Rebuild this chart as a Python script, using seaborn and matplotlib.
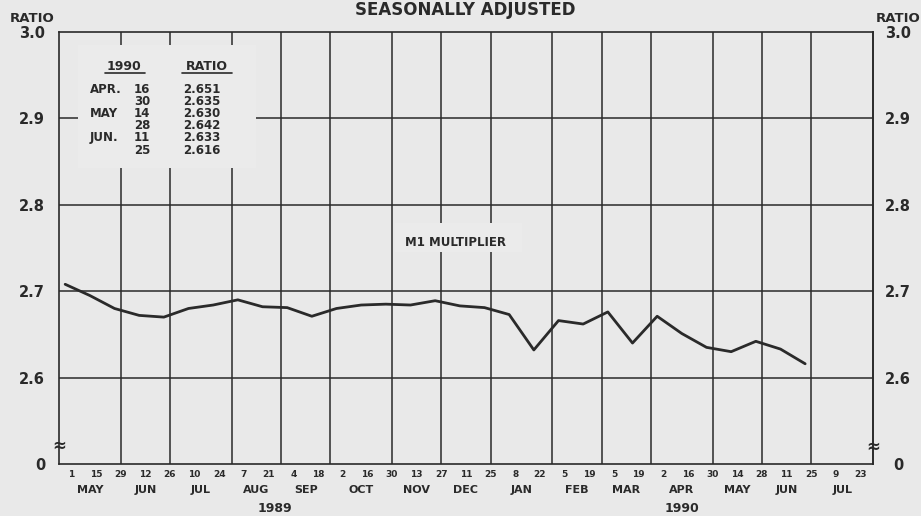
"""
M1 multiplier, seasonally adjusted - biweekly ratio, May 1989 to June 1990
"""

import pandas as pd
import matplotlib
matplotlib.use("Agg")
import matplotlib.pyplot as plt
import matplotlib.dates as mdates
import matplotlib.transforms as mtransforms
from matplotlib.patches import Rectangle
import seaborn as sns

# --- data -----------------------------------------------------------------
first_date = "1989-05-01"
last_tick_date = "1990-07-23"
ratio = [2.708, 2.695, 2.680, 2.672, 2.670, 2.680, 2.684, 2.690, 2.682, 2.681,
         2.671, 2.680, 2.684, 2.685, 2.684, 2.689, 2.683, 2.681, 2.673, 2.632,
         2.666, 2.662, 2.676, 2.640, 2.671, 2.651, 2.635, 2.630, 2.642, 2.633,
         2.616]
month_names = ["MAY", "JUN", "JUL", "AUG", "SEP", "OCT", "NOV", "DEC",
               "JAN", "FEB", "MAR", "APR", "MAY", "JUN", "JUL"]
year_names = ["1989", "1990"]
y_ticks = [2.5, 2.6, 2.7, 2.8, 2.9, 3.0]
y_tick_labels = ["0", "2.6", "2.7", "2.8", "2.9", "3.0"]
table_months = ["APR.", "", "MAY", "", "JUN.", ""]

BG = "#e9e9e9"
BOX = "#ebebeb"
INK = "#2a2a2a"

dates = pd.date_range(first_date, periods=len(ratio), freq="14D")
weeks = pd.date_range(first_date, last_tick_date, freq="7D")
# month boundaries on the chart are the last Monday of each month
month_ends = pd.period_range("1989-04", "1990-07", freq="M").to_timestamp(how="end").normalize()
bounds = month_ends - pd.to_timedelta(month_ends.weekday, unit="D")
# points sit half a week left of their Monday tick on the original
plot_shift = pd.Timedelta(days=3.5)

df = pd.DataFrame({"date": dates - plot_shift, "ratio": ratio})

# --- style ----------------------------------------------------------------
sns.set_style("white")
plt.rcParams["font.family"] = ["DejaVu Sans"]
plt.rcParams["font.weight"] = "bold"
plt.rcParams["text.color"] = INK

fig = plt.figure(figsize=(9.21, 5.16), dpi=100, facecolor=BG)
ax = fig.add_axes([59 / 921, 52 / 516, 814 / 921, 432 / 516])
ax.set_facecolor(BG)

sns.lineplot(data=df, x="date", y="ratio", ax=ax, color=INK, linewidth=2.0, zorder=2)

for b in bounds[1:-1]:
    ax.axvline(mdates.date2num(b), color=INK, lw=1.1, zorder=1)
for v in y_ticks[1:-1]:
    ax.axhline(v, color=INK, lw=1.1, zorder=1)

ax.set_xlim(mdates.date2num(bounds[0]), mdates.date2num(bounds[-1]))
ax.set_ylim(y_ticks[0], y_ticks[-1])
ax.set_xlabel("")
ax.set_ylabel("")
for s in ax.spines.values():
    s.set_color(INK)
    s.set_linewidth(1.2)

# weekly ticks, every other one labelled with the day
ax.set_xticks(mdates.date2num(weeks))
ax.set_xticklabels([str(d.day) if i % 2 == 0 else "" for i, d in enumerate(weeks)])
ax.tick_params(axis="x", direction="in", length=8, width=1.1, color=INK,
               pad=4, labelsize=6.5, labelcolor=INK)

ax.set_yticks(y_ticks)
ax.set_yticklabels(y_tick_labels)
ax.tick_params(axis="y", length=0, pad=10, labelsize=10.5, labelcolor=INK)

sec = ax.secondary_yaxis("right")
sec.set_yticks(y_ticks)
sec.set_yticklabels(y_tick_labels)
sec.tick_params(axis="y", length=0, pad=18, labelsize=10.5, labelcolor=INK)
for lab in sec.get_yticklabels():
    lab.set_horizontalalignment("center")
sec.spines["right"].set_color(INK)
sec.spines["right"].set_linewidth(1.2)

# month and year names under the day numbers
xa = mtransforms.blended_transform_factory(ax.transData, ax.transAxes)
for name, a, b in zip(month_names, bounds[:-1], bounds[1:]):
    mid = (mdates.date2num(a) + mdates.date2num(b)) / 2
    ax.text(mid, -0.060, name, transform=xa, ha="center", va="center", fontsize=8)
year_spans = [(bounds[0], bounds[8]), (bounds[8], bounds[-1])]
for name, (a, b) in zip(year_names, year_spans):
    mid = (mdates.date2num(a) + mdates.date2num(b)) / 2
    ax.text(mid, -0.102, name, transform=xa, ha="center", va="center", fontsize=9)

# axis break marks
ax.text(0.0, 0.042, "≈", transform=ax.transAxes, ha="center", va="center",
        fontsize=12, zorder=5)
ax.text(1.0, 0.040, "≈", transform=ax.transAxes, ha="center", va="center",
        fontsize=12, zorder=5)

# titles
fig.text(465 / 921, 1 - 10 / 516, "SEASONALLY ADJUSTED", ha="center", va="center", fontsize=12)
fig.text(32 / 921, 1 - 18 / 516, "RATIO", ha="center", va="center", fontsize=9.5)
fig.text(898 / 921, 1 - 18 / 516, "RATIO", ha="center", va="center", fontsize=9.5)

# series label
ax.add_patch(Rectangle((0.4128, 0.4907), 0.156, 0.0671, transform=ax.transAxes,
                       facecolor=BOX, edgecolor="none", zorder=3))
ax.text(0.4877, 0.5127, "M1 MULTIPLIER", transform=ax.transAxes, ha="center",
        va="center", fontsize=8.5, zorder=4)

# table of latest values
ax.add_patch(Rectangle((0.0233, 0.6852), 0.2187, 0.2847, transform=ax.transAxes,
                       facecolor=BOX, edgecolor="none", zorder=3))
ax.text(0.0799, 0.919, "1990", transform=ax.transAxes, ha="center", va="center",
        fontsize=9, zorder=4)
ax.text(0.1818, 0.919, "RATIO", transform=ax.transAxes, ha="center", va="center",
        fontsize=9, zorder=4)
ax.plot([0.0565, 0.1057], [0.905, 0.905], transform=ax.transAxes, color=INK, lw=1.2, zorder=4)
ax.plot([0.1511, 0.2125], [0.905, 0.905], transform=ax.transAxes, color=INK, lw=1.2, zorder=4)

for i, (mon, d, r) in enumerate(zip(table_months, dates[-6:], ratio[-6:])):
    y = (464 - (89.5 + 12.1 * i)) / 432
    ax.text(0.0381, y, mon, transform=ax.transAxes, ha="left", va="center", fontsize=8.5, zorder=4)
    ax.text(0.1118, y, str(d.day), transform=ax.transAxes, ha="right", va="center", fontsize=8.5, zorder=4)
    ax.text(0.1523, y, f"{r:.3f}", transform=ax.transAxes, ha="left", va="center", fontsize=8.5, zorder=4)

plt.savefig("out.png", dpi=100, facecolor=BG)
plt.close()
